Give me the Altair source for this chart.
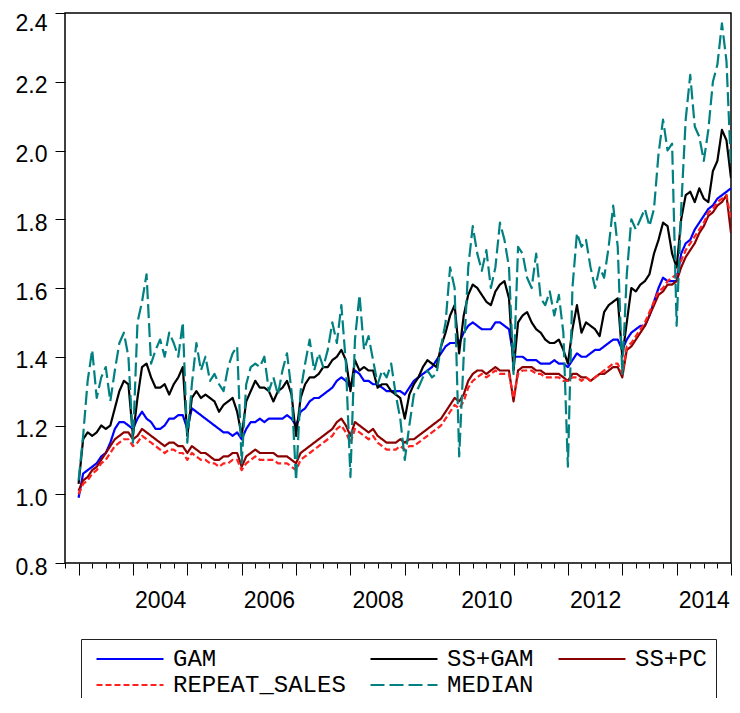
import altair as alt
import pandas as pd

start_year = 2003  # first monthly observation (January 2003); one value per month, last at 2015.0

gam = [
    0.99, 1.06, 1.07, 1.08, 1.09, 1.11, 1.12, 1.15, 1.19, 1.21, 1.21, 1.20,
    1.19, 1.22, 1.24, 1.22, 1.21, 1.19, 1.19, 1.20, 1.22, 1.22, 1.23, 1.23,
    1.19, 1.25, 1.24, 1.23, 1.22, 1.21, 1.20, 1.19, 1.18, 1.18, 1.17, 1.18,
    1.16, 1.19, 1.21, 1.21, 1.22, 1.21, 1.22, 1.22, 1.22, 1.22, 1.23, 1.22,
    1.20, 1.24, 1.25, 1.27, 1.28, 1.28, 1.29, 1.30, 1.31, 1.33, 1.34, 1.33,
    1.31, 1.36, 1.35, 1.33, 1.33, 1.32, 1.32, 1.31, 1.30, 1.30, 1.30, 1.30,
    1.29, 1.31, 1.33, 1.34, 1.35, 1.36, 1.37, 1.39, 1.41, 1.43, 1.44, 1.44,
    1.44, 1.47, 1.49, 1.50, 1.49, 1.48, 1.48, 1.48, 1.50, 1.50, 1.49, 1.48,
    1.40, 1.40, 1.40, 1.39, 1.39, 1.39, 1.38, 1.38, 1.38, 1.39, 1.38, 1.38,
    1.37, 1.39, 1.41, 1.40, 1.40, 1.41, 1.42, 1.42, 1.43, 1.44, 1.45, 1.45,
    1.42, 1.45, 1.47, 1.48, 1.49, 1.49, 1.52, 1.56, 1.60, 1.63, 1.62, 1.62,
    1.62, 1.70, 1.73, 1.74, 1.77, 1.79, 1.81, 1.83, 1.84, 1.86, 1.87, 1.88,
    1.89,
]

ss_gam = [
    1.03, 1.16, 1.18, 1.17, 1.18, 1.20, 1.19, 1.20, 1.25, 1.30, 1.33, 1.32,
    1.17, 1.28, 1.37, 1.38, 1.34, 1.31, 1.31, 1.32, 1.29, 1.32, 1.34, 1.37,
    1.17, 1.28, 1.30, 1.28, 1.29, 1.28, 1.27, 1.24, 1.26, 1.27, 1.28, 1.24,
    1.17, 1.27, 1.30, 1.33, 1.31, 1.31, 1.30, 1.27, 1.30, 1.31, 1.33, 1.29,
    1.17, 1.28, 1.32, 1.34, 1.34, 1.35, 1.37, 1.37, 1.39, 1.40, 1.42, 1.39,
    1.30, 1.39, 1.36, 1.37, 1.36, 1.36, 1.31, 1.32, 1.32, 1.30, 1.29, 1.28,
    1.22, 1.29, 1.32, 1.34, 1.37, 1.39, 1.38, 1.37, 1.43, 1.47, 1.52, 1.55,
    1.41, 1.52, 1.58, 1.61, 1.60, 1.58, 1.56, 1.55, 1.59, 1.61, 1.62, 1.57,
    1.36, 1.50, 1.52, 1.53, 1.50, 1.48, 1.47, 1.45, 1.44, 1.44, 1.45, 1.42,
    1.38, 1.48, 1.55, 1.47, 1.50, 1.49, 1.48, 1.46, 1.53, 1.55, 1.56, 1.57,
    1.40, 1.50, 1.60, 1.59, 1.61, 1.62, 1.64, 1.70, 1.74, 1.79, 1.78, 1.70,
    1.66, 1.80, 1.87, 1.88, 1.85, 1.89, 1.86, 1.85, 1.94, 1.97, 2.06, 2.03,
    1.92,
]

ss_pc = [
    1.01, 1.04, 1.05, 1.07, 1.08, 1.10, 1.12, 1.14, 1.16, 1.17, 1.18, 1.18,
    1.16, 1.17, 1.19, 1.18, 1.17, 1.16, 1.15, 1.14, 1.15, 1.15, 1.14, 1.14,
    1.12, 1.14, 1.13, 1.12, 1.12, 1.11, 1.10, 1.10, 1.11, 1.11, 1.12, 1.12,
    1.08, 1.11, 1.12, 1.13, 1.12, 1.12, 1.12, 1.12, 1.11, 1.11, 1.11, 1.10,
    1.09, 1.12, 1.13, 1.14, 1.15, 1.16, 1.17, 1.18, 1.19, 1.21, 1.22, 1.20,
    1.17, 1.21, 1.20, 1.19, 1.18, 1.19, 1.17, 1.16, 1.15, 1.15, 1.15, 1.16,
    1.15, 1.16, 1.16, 1.17, 1.18, 1.19, 1.20, 1.21, 1.22, 1.24, 1.26, 1.28,
    1.27, 1.29, 1.33, 1.35, 1.36, 1.36, 1.35, 1.36, 1.37, 1.36, 1.36, 1.36,
    1.27, 1.36, 1.37, 1.37, 1.37, 1.36, 1.36, 1.35, 1.35, 1.35, 1.35, 1.34,
    1.33, 1.35, 1.35, 1.34, 1.34, 1.33, 1.34, 1.35, 1.35, 1.36, 1.37, 1.37,
    1.34, 1.42, 1.43, 1.45, 1.47, 1.49, 1.52, 1.55, 1.58, 1.59, 1.61, 1.61,
    1.62, 1.66, 1.69, 1.71, 1.73, 1.76, 1.78, 1.81, 1.82, 1.84, 1.85, 1.87,
    1.76,
]

repeat_sales = [
    1.00, 1.03, 1.04, 1.06, 1.07, 1.09, 1.10, 1.12, 1.14, 1.15, 1.16, 1.16,
    1.14, 1.15, 1.17, 1.16, 1.15, 1.14, 1.13, 1.12, 1.13, 1.13, 1.12, 1.12,
    1.10, 1.12, 1.11, 1.10, 1.10, 1.09, 1.09, 1.08, 1.09, 1.09, 1.10, 1.10,
    1.07, 1.09, 1.10, 1.11, 1.10, 1.10, 1.10, 1.10, 1.09, 1.09, 1.09, 1.08,
    1.07, 1.10, 1.11, 1.12, 1.13, 1.14, 1.15, 1.16, 1.17, 1.19, 1.20, 1.18,
    1.15, 1.19, 1.18, 1.17, 1.16, 1.17, 1.15, 1.14, 1.13, 1.13, 1.13, 1.14,
    1.13, 1.14, 1.14, 1.15, 1.16, 1.17, 1.18, 1.19, 1.20, 1.22, 1.24, 1.26,
    1.25, 1.27, 1.31, 1.33, 1.34, 1.35, 1.34, 1.35, 1.36, 1.35, 1.35, 1.35,
    1.28, 1.35, 1.36, 1.36, 1.36, 1.35, 1.35, 1.34, 1.34, 1.34, 1.34, 1.33,
    1.33, 1.34, 1.34, 1.33, 1.34, 1.33, 1.34, 1.35, 1.36, 1.37, 1.38, 1.38,
    1.35, 1.43, 1.44, 1.46, 1.48, 1.50, 1.53, 1.56, 1.59, 1.60, 1.62, 1.63,
    1.64, 1.68, 1.71, 1.73, 1.75, 1.77, 1.79, 1.82, 1.83, 1.85, 1.86, 1.87,
    1.80,
]

median = [
    1.04, 1.17, 1.33, 1.42, 1.28, 1.34, 1.37, 1.27, 1.36, 1.44, 1.47, 1.40,
    1.15, 1.50, 1.56, 1.64, 1.38, 1.42, 1.45, 1.40, 1.47, 1.44, 1.40, 1.50,
    1.15, 1.32, 1.44, 1.36, 1.40, 1.33, 1.35, 1.32, 1.30, 1.37, 1.41, 1.43,
    1.09, 1.32, 1.37, 1.38, 1.37, 1.40, 1.30, 1.34, 1.29, 1.36, 1.41, 1.30,
    1.04, 1.30, 1.38, 1.45, 1.36, 1.41, 1.37, 1.42, 1.50, 1.44, 1.55, 1.38,
    1.05, 1.45, 1.58, 1.42, 1.46, 1.39, 1.32, 1.36, 1.34, 1.38, 1.29, 1.22,
    1.10, 1.20, 1.29, 1.31, 1.34, 1.36, 1.34, 1.35, 1.43, 1.50, 1.66, 1.60,
    1.11, 1.40, 1.66, 1.78, 1.70, 1.65, 1.71, 1.60, 1.66, 1.79, 1.74, 1.66,
    1.35, 1.72, 1.70, 1.63, 1.60, 1.70, 1.57, 1.55, 1.59, 1.52, 1.58, 1.47,
    1.08, 1.60, 1.76, 1.72, 1.74, 1.66, 1.60, 1.66, 1.63, 1.72, 1.84, 1.72,
    1.35, 1.64, 1.80, 1.77, 1.80, 1.83, 1.78, 1.83, 1.99, 2.09, 2.00, 2.02,
    1.49, 1.83, 2.09, 2.22, 2.07, 2.04, 1.97, 2.06, 2.20, 2.25, 2.37, 2.26,
    1.95,
]

series_names = ["GAM", "SS+GAM", "SS+PC", "REPEAT_SALES", "MEDIAN"]
series_values = [gam, ss_gam, ss_pc, repeat_sales, median]
series_colors = ["#0000ff", "#000000", "#8b0000", "#ff2020", "#008080"]
series_dashes = [[1, 0], [1, 0], [1, 0], [6, 3], [14, 5]]
series_widths = [2.2, 2.2, 2.2, 1, 2.2]

x_domain = [2002.75, 2015.0]
y_domain = [0.8, 2.4]
year_ticks = list(range(2003, 2016))
quarter_ticks = [2002.75 + 0.25 * i for i in range(50) if (2002.75 + 0.25 * i) % 1 != 0]
y_ticks = [0.8, 1.0, 1.2, 1.4, 1.6, 1.8, 2.0, 2.2, 2.4]

rows = []
for name, vals in zip(series_names, series_values):
    for i, v in enumerate(vals):
        rows.append({"t": start_year + i / 12.0, "value": v, "series": name})
df = pd.DataFrame(rows)

x_scale = alt.Scale(domain=x_domain, nice=False, zero=False)
y_scale = alt.Scale(domain=y_domain, nice=False, zero=False)

plot_w = 666
half_year_px = plot_w / (x_domain[1] - x_domain[0]) / 2

major_x_axis = alt.Axis(
    orient="bottom", values=year_ticks, format="d", tickSize=12, tickWidth=1,
    tickColor="black", domain=False, grid=False, labelOverlap=False, labelFlush=False,
    labelExpr="datum.value % 2 == 0 ? datum.label : ''", labelOffset=half_year_px,
    labelPadding=14, labelFont="Liberation Sans", labelFontSize=23, labelColor="black",
)
minor_x_axis = alt.Axis(
    orient="bottom", values=quarter_ticks, tickSize=5, tickWidth=1, tickColor="black",
    domain=False, grid=False, labels=False,
)
y_axis = alt.Axis(
    values=y_ticks, format=".1f", tickSize=10, tickWidth=1, tickColor="black",
    domain=False, grid=False, labelPadding=8, labelOffset=4, labelFlush=False,
    labelLineHeight=11.7,
    labelBaseline={"condition": {"test": "datum.value >= 2.39", "value": "line-top"}, "value": "middle"},
    labelFont="Liberation Sans", labelFontSize=23, labelColor="black",
)

legend = alt.Legend(
    orient="none", legendX=16, legendY=626, columns=3, direction="horizontal",
    symbolType="stroke", symbolSize=4489, symbolOffset=6, labelOffset=8,
    labelFont="Liberation Mono", labelFontSize=24, labelColor="black", labelLimit=400,
    padding=8, rowPadding=2, columnPadding=17, clipHeight=24,
    strokeColor="#222222", fillColor="white", cornerRadius=0,
)

lines = alt.Chart(df).mark_line(clip=True, strokeJoin="round").encode(
    x=alt.X("t:Q", scale=x_scale, axis=major_x_axis, title=None),
    y=alt.Y("value:Q", scale=y_scale, axis=y_axis, title=None),
    color=alt.Color("series:N", scale=alt.Scale(domain=series_names, range=series_colors),
                    legend=legend, title=None),
    strokeDash=alt.StrokeDash("series:N", scale=alt.Scale(domain=series_names, range=series_dashes),
                              title=None),
    strokeWidth=alt.StrokeWidth("series:N", scale=alt.Scale(domain=series_names, range=series_widths),
                                title=None),
)

minor = alt.Chart(df).mark_point(opacity=0).encode(
    x=alt.X("t:Q", scale=x_scale, axis=minor_x_axis, title=None),
)

chart = alt.layer(lines, minor).resolve_axis(x="independent").resolve_scale(x="shared").properties(
    width=plot_w, height=550,
    autosize=alt.AutoSizeParams(type="none"),
    padding={"left": 57, "top": 5, "right": 1, "bottom": 135},
    background="white",
).configure_view(stroke="black", strokeWidth=1.5)

chart.save("out.html", embed_options={"renderer": "svg", "actions": False})
